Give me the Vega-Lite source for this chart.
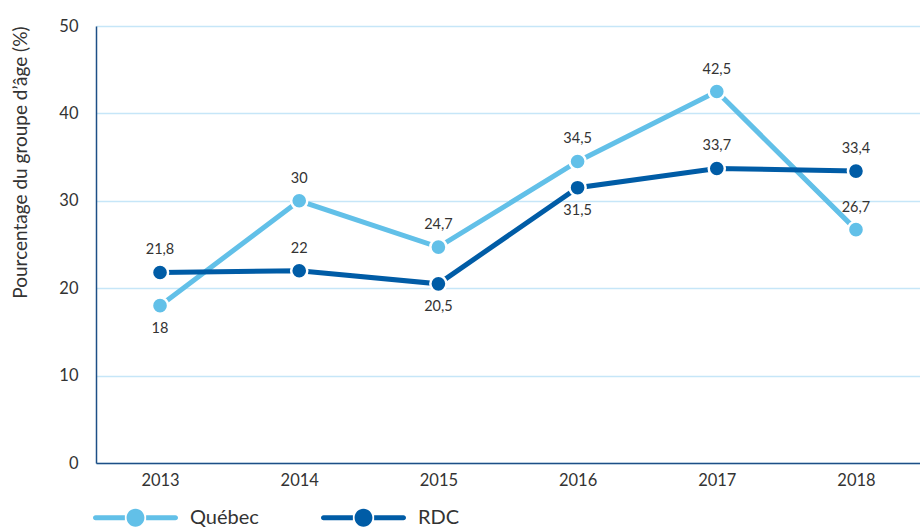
{
  "$schema": "https://vega.github.io/schema/vega-lite/v6.json",
  "width": 824,
  "height": 437,
  "autosize": {"type": "none"},
  "padding": {"left": 96, "top": 26, "right": 0, "bottom": 66},
  "background": "white",
  "config": {
    "font": "Lato",
    "view": {"stroke": null}
  },
  "data": {
    "values": [
      {"year": "2013", "series": "Québec", "value": 18, "label": "18"},
      {"year": "2014", "series": "Québec", "value": 30, "label": "30"},
      {"year": "2015", "series": "Québec", "value": 24.7, "label": "24,7"},
      {"year": "2016", "series": "Québec", "value": 34.5, "label": "34,5"},
      {"year": "2017", "series": "Québec", "value": 42.5, "label": "42,5"},
      {"year": "2018", "series": "Québec", "value": 26.7, "label": "26,7"},
      {"year": "2013", "series": "RDC", "value": 21.8, "label": "21,8"},
      {"year": "2014", "series": "RDC", "value": 22, "label": "22"},
      {"year": "2015", "series": "RDC", "value": 20.5, "label": "20,5"},
      {"year": "2016", "series": "RDC", "value": 31.5, "label": "31,5"},
      {"year": "2017", "series": "RDC", "value": 33.7, "label": "33,7"},
      {"year": "2018", "series": "RDC", "value": 33.4, "label": "33,4"}
    ]
  },
  "encoding": {
    "x": {
      "field": "year", "type": "ordinal",
      "scale": {"type": "point", "padding": 0.46},
      "axis": {
        "title": null, "labelAngle": 0, "ticks": false,
        "domainColor": "#1d4f86", "domainWidth": 1.5,
        "labelFontSize": 16.5, "labelColor": "#333333", "labelPadding": 9, "grid": false
      }
    },
    "y": {
      "field": "value", "type": "quantitative",
      "scale": {"domain": [0, 50], "nice": false, "zero": true},
      "axis": {
        "title": "Pourcentage du groupe d’âge (%)",
        "titleFontSize": 19, "titleFontWeight": "normal", "titleColor": "#333333",
        "titleAnchor": "end", "titlePadding": 28,
        "values": [0, 10, 20, 30, 40, 50],
        "ticks": false, "labelPadding": 18, "labelFontSize": 16.5, "labelColor": "#333333",
        "domainColor": "#1d4f86", "domainWidth": 1.5,
        "gridColor": "#c6e6f8", "gridWidth": 1.5
      }
    },
    "color": {
      "field": "series", "type": "nominal",
      "scale": {"domain": ["Québec", "RDC"], "range": ["#62c0e8", "#005ca6"]},
      "legend": {
        "title": null, "orient": "none", "direction": "horizontal",
        "legendX": -3, "legendY": 449, "padding": 0,
        "symbolType": "M-0.94,-0.06 H-0.25 V0.06 H-0.94 A0.06,0.06 0 0 1 -0.94,-0.06 Z M0.25,-0.06 H0.94 A0.06,0.06 0 0 1 0.94,0.06 H0.25 Z M0.21,0 A0.21,0.21 0 1 1 -0.21,0 A0.21,0.21 0 1 1 0.21,0 Z",
        "symbolSize": 7225, "symbolStrokeWidth": 0,
        "labelFontSize": 20, "labelColor": "#333333", "labelOffset": 12,
        "columnPadding": 62,
        "encode": {"symbols": {"update": {"fill": {"scale": "color", "field": "value"}, "stroke": {"value": "transparent"}, "opacity": {"value": 1}}}}
      }
    }
  },
  "layer": [
    {"mark": {"type": "line", "strokeWidth": 5}},
    {"mark": {"type": "point", "filled": true, "size": 260, "opacity": 1, "stroke": "white", "strokeWidth": 2.5}},
    {
      "transform": [{"filter": "(datum.series=='Québec' && datum.year!='2013') || (datum.series=='RDC' && (datum.year=='2013' || datum.year=='2014' || datum.year=='2017' || datum.year=='2018'))"}],
      "mark": {"type": "text", "dy": -22, "fontSize": 14.5, "color": "#333333"},
      "encoding": {"text": {"field": "label"}, "color": {"value": "#333333"}}
    },
    {
      "transform": [{"filter": "(datum.series=='Québec' && datum.year=='2013') || (datum.series=='RDC' && (datum.year=='2015' || datum.year=='2016'))"}],
      "mark": {"type": "text", "dy": 23, "fontSize": 14.5, "color": "#333333"},
      "encoding": {"text": {"field": "label"}, "color": {"value": "#333333"}}
    }
  ]
}
